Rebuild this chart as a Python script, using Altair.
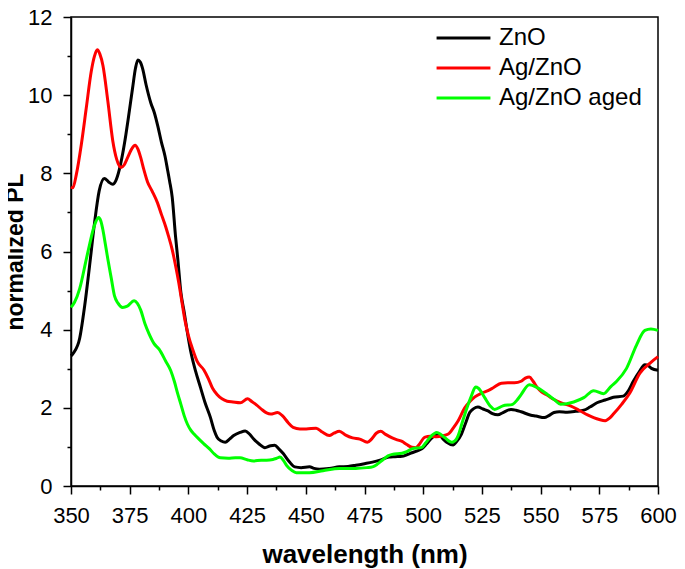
import altair as alt
import pandas as pd

# ZnO (black)
zno_x = [350, 351, 353.7, 355.8, 357.9, 360, 362, 364.2, 366, 367.8, 369, 370.6, 372, 373.4, 374.5, 376.2,
         377.5, 378.5, 379.5, 380.5, 382, 384, 385.5, 387, 388.5, 390, 391.1, 392, 393.1, 394.5, 395.5,
         396.8, 398.2, 399.5, 401, 403, 405.2, 407, 409.4, 411, 412.2, 414, 415.7, 417.5, 419.3, 422,
         424.2, 426, 427.7, 430, 432.6, 435, 436.8, 438.5, 440.4, 443, 445.3, 448, 451.6, 453.5, 455.8,
         460, 464.3, 468, 471.3, 475, 478.4, 482, 485.4, 488, 491, 493, 495.2, 497.5, 499.4, 501.5, 503.7,
         506.5, 508.5, 510, 512.8, 514, 516.3, 518, 519.8, 521.5, 523.3, 525.5, 527.6, 529.5, 531.8, 534,
         537.4, 539.5, 541.7, 545.9, 548, 551.6, 553.5, 555.7, 558, 561.3, 565, 568.4, 571, 574, 577.5,
         581, 585.2, 587.5, 589.5, 592, 594.4, 596, 597.2, 600]
zno_y = [3.33, 3.40, 3.78, 4.6, 5.63, 6.72, 7.55, 7.87, 7.78, 7.72, 7.8, 8.1, 8.5, 9.0, 9.45, 10.17,
         10.7, 10.9, 10.85, 10.68, 10.26, 9.8, 9.55, 9.2, 8.8, 8.45, 8.1, 7.8, 7.39, 6.4, 5.8,
         4.95, 4.45, 3.95, 3.44, 2.95, 2.51, 2.15, 1.75, 1.42, 1.25, 1.15, 1.12, 1.2, 1.29, 1.37,
         1.41, 1.33, 1.21, 1.08, 0.98, 1.03, 1.04, 0.95, 0.83, 0.62, 0.49, 0.47, 0.49, 0.45, 0.43,
         0.45, 0.49, 0.5, 0.53, 0.57, 0.61, 0.67, 0.74, 0.75, 0.76, 0.8, 0.85, 0.9, 0.95, 1.08, 1.23,
         1.33, 1.2, 1.12, 1.05, 1.12, 1.33, 1.6, 1.88, 1.98, 2.02, 1.97, 1.92, 1.85, 1.82, 1.88,
         1.96, 1.94, 1.9, 1.81, 1.79, 1.75, 1.8, 1.88, 1.9, 1.89, 1.91, 1.94, 2.02, 2.13, 2.2,
         2.27, 2.3, 2.45, 2.68, 2.92, 3.1, 3.07, 3.01, 2.96]

# Ag/ZnO (red)
ag_x = [350, 350.8, 352.3, 354.4, 356.5, 358.6, 360, 361.2, 362.3, 363.6, 365.7, 367.8, 369.5, 371.3,
        372.7, 374.1, 375.8, 377.3, 378.5, 379.7, 381, 382.6, 384.5, 386.8, 388.5, 390.3, 391.5, 393.1,
        394.5, 395.9, 397, 398.5, 400, 401.8, 403.8, 406.6, 408.5, 410.3, 412.2, 414.3, 416.5, 419,
        422.1, 425.2, 427, 429.1, 431.2, 433.3, 435, 438, 440, 442.5, 444.6, 447.5, 450.2, 454.4, 457,
        460, 462, 464.3, 467, 469.9, 473, 476.2, 478, 480, 481.9, 484, 486.8, 489, 491, 493, 495.2, 497,
        498, 500.8, 503, 505.8, 508, 510.7, 513, 514.9, 517.7, 520, 522, 525, 527.6, 530, 533.3, 536,
        538.9, 541.7, 543.5, 545.2, 546.8, 548.7, 550.5, 552.9, 555.5, 558.5, 562.7, 566.9, 570, 572.6,
        575, 577.5, 579.5, 581, 584.5, 588, 592.3, 596.5, 600]
ag_y = [7.65, 7.63, 7.98, 8.74, 9.67, 10.6, 11.0, 11.16, 11.05, 10.76, 9.84, 8.83, 8.35, 8.15,
        8.22, 8.4, 8.62, 8.72, 8.62, 8.4, 8.1, 7.78, 7.55, 7.25, 6.95, 6.64, 6.4, 6.05,
        5.65, 5.2, 4.8, 4.25, 3.85, 3.5, 3.18, 2.97, 2.75, 2.5, 2.34, 2.23, 2.17, 2.15,
        2.13, 2.23, 2.16, 2.07, 1.96, 1.87, 1.84, 1.88, 1.8, 1.62, 1.5, 1.46, 1.46, 1.48, 1.38,
        1.29, 1.35, 1.4, 1.3, 1.23, 1.2, 1.12, 1.2, 1.35, 1.4, 1.32, 1.23, 1.18, 1.14, 1.06, 0.99, 0.98,
        1.04, 1.25, 1.27, 1.26, 1.28, 1.33, 1.5, 1.67, 2.0, 2.17, 2.28, 2.38, 2.44, 2.52, 2.63, 2.64,
        2.64, 2.68, 2.76, 2.79, 2.68, 2.51, 2.4, 2.32, 2.22, 2.13, 2.05, 1.92, 1.82, 1.75,
        1.7, 1.67, 1.74, 1.84, 2.09, 2.38, 2.89, 3.14, 3.31]

# Ag/ZnO aged (green)
aged_x = [350, 351.5, 353.7, 356.5, 358, 359.4, 360.5, 361.8, 362.7, 363.6, 364.6, 365.7, 367.2, 368.5,
          370, 372, 374, 376.9, 378.2, 379.7, 381.5, 383.2, 385.3, 387.5, 390.3, 392.5, 394, 395.5, 396.8,
          398.2, 399.6, 401, 402.4, 404.5, 406.6, 409, 411, 413.6, 417, 420, 422, 425, 427.7, 431, 433.3,
          436, 437.6, 439, 440.5, 441.8, 444, 446, 451.6, 457.3, 464.3, 471.3, 476, 478.4, 480.5, 482.6,
          485, 486.8, 491, 493, 495.2, 499.4, 501, 503, 505.8, 507.5, 509.3, 512.1, 513.6, 514.9, 516.5,
          518.4, 520.5, 522.3, 523.5, 526.2, 528.5, 530.4, 533.9, 538.1, 540, 541.7, 545.2, 548.7, 552.9,
          556, 558.5, 564.1, 568.4, 572.6, 576.8, 580, 582.4, 586.6, 590.8, 594.4, 597, 600]
aged_y = [4.57, 4.7, 5.05, 5.8, 6.2, 6.55, 6.75, 6.87, 6.78, 6.55, 6.2, 5.8, 5.3, 4.87,
          4.68, 4.57, 4.6, 4.74, 4.68, 4.5, 4.15, 3.9, 3.65, 3.5, 3.2, 2.95, 2.68, 2.35, 2.09,
          1.8, 1.58, 1.43, 1.33, 1.2, 1.08, 0.95, 0.82, 0.72, 0.71, 0.72, 0.72, 0.67, 0.64, 0.66, 0.66,
          0.68, 0.71, 0.74, 0.65, 0.53, 0.4, 0.34, 0.34, 0.39, 0.45, 0.45, 0.47, 0.49, 0.56, 0.66,
          0.77, 0.81, 0.84, 0.88, 0.95, 0.99, 1.1, 1.25, 1.37, 1.32, 1.23, 1.12, 1.16, 1.29, 1.6,
          1.96, 2.3, 2.53, 2.5, 2.26, 2.05, 1.96, 2.05, 2.09, 2.2, 2.34, 2.59, 2.51, 2.34,
          2.2, 2.09, 2.15, 2.26, 2.44, 2.36, 2.55, 2.68, 3.01, 3.6, 3.98, 4.02, 3.98]

series_names = ["ZnO", "Ag/ZnO", "Ag/ZnO aged"]
series_colors = ["#000000", "#ff0000", "#00ff00"]

x_ticks = [350 + 12.5 * i for i in range(21)]
y_ticks = list(range(0, 13))

frames = []
for i, (name, xs, ys) in enumerate(zip(series_names, [zno_x, ag_x, aged_x], [zno_y, ag_y, aged_y])):
    frames.append(pd.DataFrame({"wavelength": xs, "pl": ys, "sample": name, "ord": i}))
df = pd.concat(frames, ignore_index=True)

FONT = "Liberation Sans"

chart = alt.Chart(df).mark_line(strokeWidth=3, interpolate="monotone").encode(
    x=alt.X("wavelength:Q",
            scale=alt.Scale(domain=[350, 600], nice=False, zero=False),
            axis=alt.Axis(values=x_ticks, title="wavelength (nm)", grid=False,
                          labelExpr="datum.value % 25 === 0 ? datum.label : ''",
                          labelFlush=False, labelOverlap=False,
                          tickSize={"condition": {"test": "datum.value % 25 === 0", "value": 8}, "value": 4},
                          labelPadding=11, labelFontSize=22, titleFontSize=26, titlePadding=15)),
    y=alt.Y("pl:Q",
            scale=alt.Scale(domain=[0, 12], nice=False),
            axis=alt.Axis(values=y_ticks, title="normalized PL", grid=False,
                          labelExpr="datum.value % 2 === 0 ? datum.label : ''",
                          labelFlush=False, labelOverlap=False,
                          tickSize={"condition": {"test": "datum.value % 2 === 0", "value": 8}, "value": 4},
                          labelPadding=11, labelFontSize=22, titleFontSize=23, titlePadding=0)),
    color=alt.Color("sample:N",
                    scale=alt.Scale(domain=series_names, range=series_colors),
                    legend=alt.Legend(title=None, orient="none", legendX=364, legendY=6,
                                      symbolType="stroke", symbolSize=2900, symbolStrokeWidth=3,
                                      clipHeight=30, rowPadding=0,
                                      labelFontSize=24, labelFont=FONT, labelOffset=7)),
    detail="ord:O",
    order="ord:O",
).properties(
    width=587, height=469,
    autosize=alt.AutoSizeParams(type="none"),
    padding={"left": 63, "top": 9, "right": 19, "bottom": 84},
).configure_view(
    stroke="#000000", strokeWidth=1.5
).configure_axis(
    domainColor="#000000", domainWidth=1.5, tickColor="#000000", tickWidth=1.5,
    labelColor="#000000", titleColor="#000000", labelFont=FONT, titleFont=FONT,
    titleFontWeight="bold"
)

chart.save("out.html", embed_options={"renderer": "svg", "actions": False})
